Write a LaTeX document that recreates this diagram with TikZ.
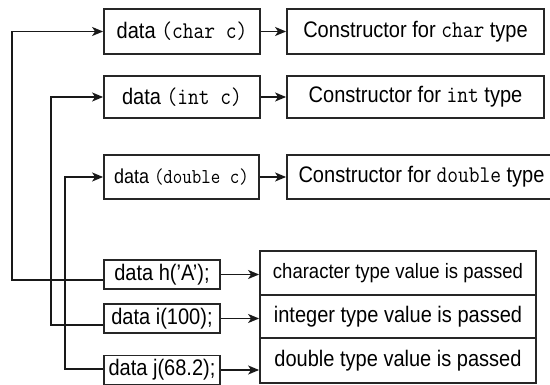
\documentclass[tikz,border=0pt]{standalone}
\usepackage{fontspec}
\setmainfont{Liberation Sans}[FakeStretch=0.89]
\setmonofont{Latin Modern Mono}[FakeStretch=0.87]
\usetikzlibrary{arrows.meta,calc}
\newcommand\cd[1]{{\fontsize{24}{26}\selectfont\ttfamily #1}}
\newcommand\cds[1]{{\fontsize{21.2}{24}\selectfont\ttfamily #1}}
\begin{document}
\begin{tikzpicture}[x=1pt,y=-1pt,
  box/.style={draw=black!85, line width=1.8pt, inner sep=0pt, font=\fontsize{22.5}{26}\selectfont},
  link/.style={draw=black!90, line width=1.8pt, -{Stealth[length=11pt,width=9pt,inset=3pt]}},
  ]
\clip (0,0) rectangle (550,385);
% constructors
\node[box, minimum width=156pt, minimum height=45pt] (a) at (182,31.5) {data \cd{(char c)}};
\node[box, minimum width=156pt, minimum height=42pt] (b) at (182,97) {data \cd{(int c)}};
\node[box, minimum width=155pt, minimum height=44pt, font=\fontsize{20.2}{24}\selectfont] (c) at (181.5,177) {data \cds{(double c)}};
% descriptions of the constructors
\node[box, minimum width=257pt, minimum height=45pt] (ca) at (415.5,31.5) {Constructor for \cd{char} type};
\node[box, minimum width=257pt, minimum height=42pt] (cb) at (415.5,97) {Constructor for \cd{int} type};
\node[box, minimum width=269pt, minimum height=44pt] (cc) at (421.5,177) {Constructor for \cd{double} type};
% object declarations
\node[box, minimum width=116pt, minimum height=29pt] (h) at (162,274.5) {data h('A');};
\node[box, minimum width=116pt, minimum height=29pt] (i) at (162,318.5) {data i(100);};
\node[box, minimum width=116pt, minimum height=29pt] (j) at (162,370) {data j(68.2);};
% result table
\node[box, minimum width=276pt, minimum height=44pt, font=\fontsize{20.8}{24}\selectfont] (r1) at (398,273) {character type value is passed};
\node[box, minimum width=276pt, minimum height=43pt] (r2) at (398,316.5) {integer type value is passed};
\node[box, minimum width=276pt, minimum height=45pt] (r3) at (398,360.5) {double type value is passed};
% arrows to the descriptions
\draw[link] (a.east) -- (ca.west);
\draw[link] (b.east) -- (cb.west);
\draw[link] (c.east) -- (cc.west);
\draw[link] (h.east) -- (h.east -| r1.west);
\draw[link] (i.east) -- (i.east -| r2.west);
\draw[link] (j.east) -- (j.east -| r3.west);
% calls to the constructors
\coordinate (hs) at ([yshift=-5.5pt]h.west);
\coordinate (is) at ([yshift=-6.5pt]i.west);
\coordinate (js) at ([yshift=1pt]j.west);
\draw[link] (hs) -| ([xshift=-91pt]a.west) -- (a.west);
\draw[link] (is) -| ([xshift=-52pt]b.west) -- (b.west);
\draw[link] (js) -| ([xshift=-38pt]c.west) -- (c.west);
\end{tikzpicture}
\end{document}
